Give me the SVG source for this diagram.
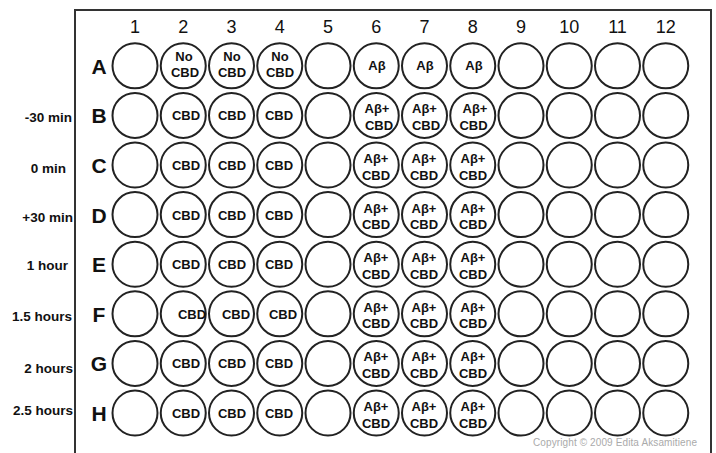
<svg xmlns="http://www.w3.org/2000/svg" width="716" height="453" viewBox="0 0 716 453">
<style>
.w{fill:#fff;stroke:#222;stroke-width:2}
.t{font-family:"Liberation Sans",Arial,sans-serif;font-weight:bold;font-size:13px;fill:#111;text-anchor:middle}
.n{font-family:"Liberation Sans",Arial,sans-serif;font-size:18px;fill:#111;text-anchor:middle}
.l{font-family:"Liberation Sans",Arial,sans-serif;font-weight:bold;font-size:21px;fill:#111;text-anchor:middle}
.s{font-family:"Liberation Sans",Arial,sans-serif;font-weight:bold;font-size:13.5px;fill:#111;text-anchor:end}
.c{font-family:"Liberation Sans",Arial,sans-serif;font-size:10px;fill:#aaa}
</style>
<rect width="716" height="453" fill="#fff"/>
<g id="frame" fill="none" stroke="#333" stroke-width="2">
<path d="M75,453 V10 H711 V453"/>
</g>
<g id="columns">
<text class="n" x="135" y="33">1</text>
<text class="n" x="183.25" y="33">2</text>
<text class="n" x="231.5" y="33">3</text>
<text class="n" x="279.75" y="33">4</text>
<text class="n" x="328" y="33">5</text>
<text class="n" x="376.25" y="33">6</text>
<text class="n" x="424.5" y="33">7</text>
<text class="n" x="472.75" y="33">8</text>
<text class="n" x="521" y="33">9</text>
<text class="n" x="569.25" y="33">10</text>
<text class="n" x="617.5" y="33">11</text>
<text class="n" x="665.75" y="33">12</text>
</g>
<g id="rows">
<text class="l" x="99" y="74">A</text>
<text class="l" x="99" y="123">B</text>
<text class="l" x="99" y="173">C</text>
<text class="l" x="99" y="223">D</text>
<text class="l" x="99" y="272">E</text>
<text class="l" x="99" y="322">F</text>
<text class="l" x="99" y="371">G</text>
<text class="l" x="99" y="421">H</text>
</g>
<g id="times">
<text class="s" x="72" y="122">-30 min</text>
<text class="s" x="66" y="173">0 min</text>
<text class="s" x="73" y="222">+30 min</text>
<text class="s" x="68" y="270">1 hour</text>
<text class="s" x="72" y="321">1.5 hours</text>
<text class="s" x="73" y="373">2 hours</text>
<text class="s" x="73" y="415">2.5 hours</text>
</g>
<defs>
<g id="rowc">
<circle class="w" cx="135" r="22.5"/>
<circle class="w" cx="183.25" r="22.5"/>
<circle class="w" cx="231.5" r="22.5"/>
<circle class="w" cx="279.75" r="22.5"/>
<circle class="w" cx="328" r="22.5"/>
<circle class="w" cx="376.25" r="22.5"/>
<circle class="w" cx="424.5" r="22.5"/>
<circle class="w" cx="472.75" r="22.5"/>
<circle class="w" cx="521" r="22.5"/>
<circle class="w" cx="569.25" r="22.5"/>
<circle class="w" cx="617.5" r="22.5"/>
<circle class="w" cx="665.75" r="22.5"/>
</g>
</defs>
<g id="rowA" transform="translate(0,65.8)">
<use href="#rowc"/>
<text class="t" x="184" y="-5">No</text><text class="t" x="185" y="11.5">CBD</text>
<text class="t" x="232" y="-5">No</text><text class="t" x="232" y="11.5">CBD</text>
<text class="t" x="280" y="-5">No</text><text class="t" x="280" y="11.5">CBD</text>
<text class="t" x="377" y="4.5">Aβ</text>
<text class="t" x="425" y="4.5">Aβ</text>
<text class="t" x="474" y="4.5">Aβ</text>
</g>
<g id="rowB" transform="translate(0,115.4)">
<use href="#rowc"/>
<text class="t" x="186" y="5">CBD</text>
<text class="t" x="232" y="5">CBD</text>
<text class="t" x="279" y="5">CBD</text>
<text class="t" x="377" y="-2">Aβ+</text><text class="t" x="379" y="14.5">CBD</text>
<text class="t" x="424.5" y="-2">Aβ+</text><text class="t" x="426" y="14.5">CBD</text>
<text class="t" x="475" y="-2">Aβ+</text><text class="t" x="473.5" y="14.5">CBD</text>
</g>
<g id="rowC" transform="translate(0,165)">
<use href="#rowc"/>
<text class="t" x="186" y="5">CBD</text>
<text class="t" x="232" y="5">CBD</text>
<text class="t" x="279" y="5">CBD</text>
<text class="t" x="376" y="-2">Aβ+</text><text class="t" x="376" y="14.5">CBD</text>
<text class="t" x="424" y="-2">Aβ+</text><text class="t" x="424" y="14.5">CBD</text>
<text class="t" x="473" y="-2">Aβ+</text><text class="t" x="473" y="14.5">CBD</text>
</g>
<g id="rowD" transform="translate(0,214.6)">
<use href="#rowc"/>
<text class="t" x="186" y="5">CBD</text>
<text class="t" x="232" y="5">CBD</text>
<text class="t" x="279" y="5">CBD</text>
<text class="t" x="376" y="-2">Aβ+</text><text class="t" x="376" y="14.5">CBD</text>
<text class="t" x="424" y="-2">Aβ+</text><text class="t" x="424" y="14.5">CBD</text>
<text class="t" x="473" y="-2">Aβ+</text><text class="t" x="473" y="14.5">CBD</text>
</g>
<g id="rowE" transform="translate(0,264.2)">
<use href="#rowc"/>
<text class="t" x="186" y="5">CBD</text>
<text class="t" x="232" y="5">CBD</text>
<text class="t" x="279" y="5">CBD</text>
<text class="t" x="376" y="-2">Aβ+</text><text class="t" x="376" y="14.5">CBD</text>
<text class="t" x="424" y="-2">Aβ+</text><text class="t" x="424" y="14.5">CBD</text>
<text class="t" x="473" y="-2">Aβ+</text><text class="t" x="473" y="14.5">CBD</text>
</g>
<g id="rowF" transform="translate(0,313.8)">
<use href="#rowc"/>
<text class="t" x="192" y="5">CBD</text>
<text class="t" x="236" y="5">CBD</text>
<text class="t" x="283" y="5">CBD</text>
<text class="t" x="376" y="-2">Aβ+</text><text class="t" x="376" y="14.5">CBD</text>
<text class="t" x="424" y="-2">Aβ+</text><text class="t" x="424" y="14.5">CBD</text>
<text class="t" x="473" y="-2">Aβ+</text><text class="t" x="473" y="14.5">CBD</text>
</g>
<g id="rowG" transform="translate(0,363.4)">
<use href="#rowc"/>
<text class="t" x="186" y="5">CBD</text>
<text class="t" x="232" y="5">CBD</text>
<text class="t" x="279" y="5">CBD</text>
<text class="t" x="376" y="-2">Aβ+</text><text class="t" x="376" y="14.5">CBD</text>
<text class="t" x="424" y="-2">Aβ+</text><text class="t" x="424" y="14.5">CBD</text>
<text class="t" x="473" y="-2">Aβ+</text><text class="t" x="473" y="14.5">CBD</text>
</g>
<g id="rowH" transform="translate(0,413)">
<use href="#rowc"/>
<text class="t" x="186" y="5">CBD</text>
<text class="t" x="232" y="5">CBD</text>
<text class="t" x="279" y="5">CBD</text>
<text class="t" x="376" y="-2">Aβ+</text><text class="t" x="376" y="14.5">CBD</text>
<text class="t" x="424" y="-2">Aβ+</text><text class="t" x="424" y="14.5">CBD</text>
<text class="t" x="473" y="-2">Aβ+</text><text class="t" x="473" y="14.5">CBD</text>
</g>
<text class="c" x="533" y="446" textLength="164">Copyright © 2009 Edita Aksamitiene</text>
</svg>
